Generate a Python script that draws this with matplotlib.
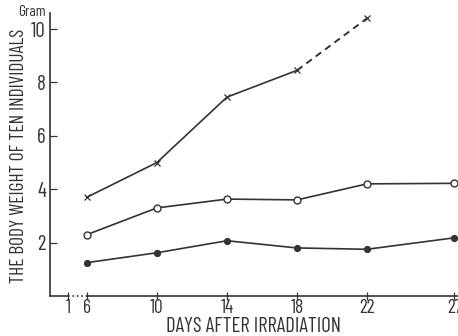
import numpy as np
import matplotlib.pyplot as plt

plt.rcParams['font.family'] = ['Barlow Condensed', 'DejaVu Sans']

# data
days = [6, 10, 14, 18, 22, 27]
w_cross = [3.7, 5.0, 7.45, 8.45, 10.4]       # x markers, day 6..22 (18->22 dashed)
w_open = [2.3, 3.3, 3.63, 3.6, 4.2, 4.22]    # open circles
w_filled = [1.25, 1.62, 2.07, 1.8, 1.75, 2.18]  # filled circles

tick_days = [1, 6, 10, 14, 18, 22, 27]
y_ticks = [2, 4, 6, 8, 10]


def pos(d):
    # broken axis : day 1 sits just left of day 6
    return d if d >= 6 else 4.92


fig = plt.figure(figsize=(4.58, 3.36), dpi=100)
ax = fig.add_axes([50 / 458, 40 / 336, 408 / 458, 283 / 336])

col = '#333333'
xs = [pos(d) for d in days]

ax.plot(xs[:4], w_cross[:4], '-', color=col, lw=1.2, marker='x', ms=4, mew=0.9)
ax.plot(xs[3:5], w_cross[3:5], '--', color=col, lw=1.4, dashes=(3.5, 2.5))
ax.plot(xs[4:5], w_cross[4:5], 'x', color=col, ms=4, mew=0.9)
ax.plot(xs, w_open, '-', color=col, lw=1.2, marker='o', ms=5, mfc='white', mew=1.0)
ax.plot(xs, w_filled, '-', color=col, lw=1.2, marker='o', ms=4.2, mfc=col)

x0, x1 = 3.89, 27.2
ax.set_xlim(x0, x1)
ax.set_ylim(0, 10.6)

ax.spines['top'].set_visible(False)
ax.spines['right'].set_visible(False)
ax.spines['bottom'].set_visible(False)
ax.spines['left'].set_color(col)
ax.spines['left'].set_linewidth(1.2)

# broken x axis line
ax.plot([x0, pos(1)], [0, 0], '-', color=col, lw=1.2, clip_on=False)
ax.plot([pos(1), 6], [0, 0], ':', color=col, lw=1.2, clip_on=False)
ax.plot([6, x1], [0, 0], '-', color=col, lw=1.2, clip_on=False)

ax.set_xticks([pos(d) for d in tick_days])
ax.set_xticklabels([str(d) for d in tick_days])
ax.set_yticks(y_ticks)
ax.set_yticklabels([str(v) for v in y_ticks])
ax.tick_params(axis='x', direction='inout', length=6, width=0.9, colors=col,
               labelsize=14, pad=-1)
ax.tick_params(axis='y', direction='in', length=5, width=0.9, colors=col,
               labelsize=15, pad=3)

ax.set_xlabel('DAYS AFTER IRRADIATION', fontsize=15, color=col)
ax.xaxis.set_label_coords(0.5, -0.074)
ax.set_ylabel('THE BODY WEIGHT OF TEN INDIVIDUALS', fontsize=14, color=col)
ax.yaxis.set_label_coords(-0.054, 0.496)
fig.text(18 / 458, 1 - 16 / 336, 'Gram', fontsize=11, color=col)

fig.savefig('out.png', dpi=100)
